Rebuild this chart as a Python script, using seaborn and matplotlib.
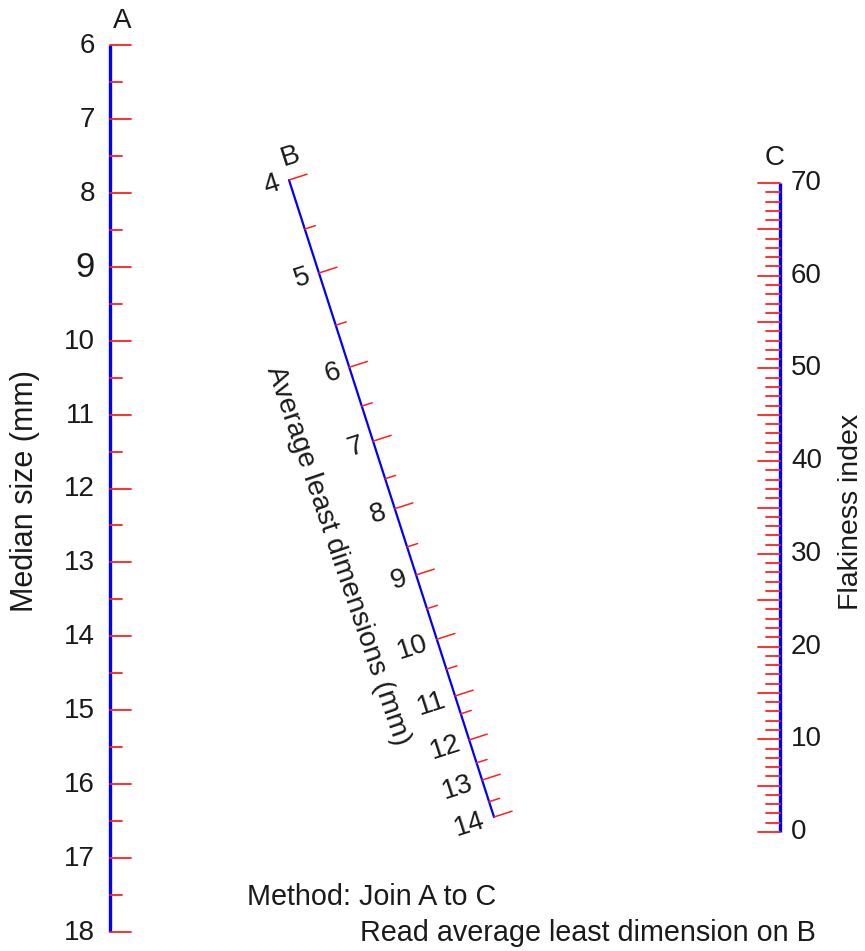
import numpy as np
import pandas as pd
import matplotlib
matplotlib.use("Agg")
import matplotlib.pyplot as plt
import seaborn as sns

# ---------------- data ----------------
a_major = [6, 7, 8, 9, 10, 11, 12, 13, 14, 15, 16, 17, 18]
a_minor = [6.5, 7.5, 8.5, 9.5, 10.5, 11.5, 12.5, 13.5, 14.5, 15.5, 16.5, 17.5]
c_ticks = list(range(0, 71))
c_labels = [0, 10, 20, 30, 40, 50, 60, 70]
b_values = [4, 4.5, 5, 5.5, 6, 6.5, 7, 7.5, 8, 8.5, 9, 9.5, 10, 10.5, 11, 11.5,
            12, 12.5, 13, 13.5, 14]
# calibrated position of each B value along the B scale (0 = top, 1 = bottom)
b_fraction = [0.000, 0.077, 0.146, 0.228, 0.294, 0.355, 0.410, 0.469, 0.516,
              0.576, 0.620, 0.673, 0.721, 0.768, 0.810, 0.838, 0.879, 0.915,
              0.942, 0.976, 1.000]
b_labels = [4, 5, 6, 7, 8, 9, 10, 11, 12, 13, 14]

# ---------------- style ----------------
sns.set_theme(style="white")
plt.rcParams["font.family"] = ["Liberation Sans", "DejaVu Sans"]

BLUE = "#0000ff"
RED = "#ff2020"
TXT = "#1a1a1a"
FS_TICK = 20
FS_LAB = 20

fig = plt.figure(figsize=(8.65, 9.51), dpi=100)
ax = fig.add_axes([0, 0, 1, 1])
ax.set_xlim(0, 865)
ax.set_ylim(951, 0)
ax.axis("off")

# layout of the three scales (canvas units)
AX, A_TOP, A_BOT = 110, 45, 932
CX, C_TOP, C_BOT = 780, 183, 832
B0 = np.array([289.0, 180.0])
B1 = np.array([494.0, 817.0])


def a_y(v):
    return A_TOP + (v - a_major[0]) / (a_major[-1] - a_major[0]) * (A_BOT - A_TOP)


def c_y(v):
    return C_BOT - (v - c_ticks[0]) / (c_ticks[-1] - c_ticks[0]) * (C_BOT - C_TOP)


def b_pt(frac):
    return B0 + frac * (B1 - B0)


# ---------------- A scale ----------------
dfA = pd.DataFrame({"x": [AX, AX], "y": [a_y(a_major[0]), a_y(a_major[-1])]})
sns.lineplot(data=dfA, x="x", y="y", ax=ax, color=BLUE, lw=2.4, sort=False,
             estimator=None, solid_capstyle="butt")
for v in a_major:
    y = a_y(v)
    ax.plot([AX, AX + 21], [y, y], color=RED, lw=1.3)
    fs = 25 if v == 9 else FS_TICK
    ax.text(AX - 15, y + 1, str(v), ha="right", va="center", fontsize=fs, color=TXT)
for v in a_minor:
    y = a_y(v)
    ax.plot([AX, AX + 12], [y, y], color=RED, lw=1.3)
ax.text(122, 21, "A", ha="center", va="center", fontsize=FS_LAB, color=TXT)
ax.text(25, 491, "Median size (mm)", rotation=90, ha="center", va="center",
        fontsize=22, color=TXT)

# ---------------- C scale ----------------
dfC = pd.DataFrame({"x": [CX, CX], "y": [c_y(c_ticks[0]), c_y(c_ticks[-1])]})
sns.lineplot(data=dfC, x="x", y="y", ax=ax, color=BLUE, lw=2.4, sort=False,
             estimator=None, solid_capstyle="butt")
for v in c_ticks:
    y = c_y(v)
    ln = 22 if v % 5 == 0 else 14
    ax.plot([CX - ln, CX], [y, y], color=RED, lw=1.3)
for v in c_labels:
    ax.text(CX + 11, c_y(v), str(v), ha="left", va="center", fontsize=FS_TICK, color=TXT)
ax.text(775, 158, "C", ha="center", va="center", fontsize=FS_LAB, color=TXT)
ax.text(851, 512, "Flakiness index", rotation=90, ha="center", va="center",
        fontsize=20.5, color=TXT)

# ---------------- B scale ----------------
dfB = pd.DataFrame({"x": [B0[0], B1[0]], "y": [B0[1], B1[1]]})
sns.lineplot(data=dfB, x="x", y="y", ax=ax, color=BLUE, lw=1.6, sort=False,
             estimator=None)
d = (B1 - B0) / np.linalg.norm(B1 - B0)
perp = np.array([d[1], -d[0]])  # right-up direction
ang = np.degrees(np.arctan2(d[0], d[1]))
for v, f in zip(b_values, b_fraction):
    p = b_pt(f)
    ln = 19 if float(v).is_integer() else 11
    q = p + perp * ln
    ax.plot([p[0], q[0]], [p[1], q[1]], color=RED, lw=1.1)
    if v in b_labels:
        t = p - perp * 10
        ax.text(t[0], t[1], str(v), ha="right", va="center", fontsize=FS_TICK,
                color=TXT, rotation=ang, rotation_mode="anchor")
ax.text(290, 157, "B", ha="center", va="center", fontsize=FS_LAB, color=TXT,
        rotation=ang)
ax.text(338, 556, "Average least dimensions (mm)", rotation=-(90 - ang - 1),
        ha="center", va="center", fontsize=20.4, color=TXT, rotation_mode="anchor")

# ---------------- method note ----------------
ax.text(247, 897, "Method: Join A to C", ha="left", va="center", fontsize=20.7,
        color=TXT)
ax.text(360, 933, "Read average least dimension on B", ha="left", va="center",
        fontsize=20.7, color=TXT)

fig.savefig("out.png", dpi=100)
